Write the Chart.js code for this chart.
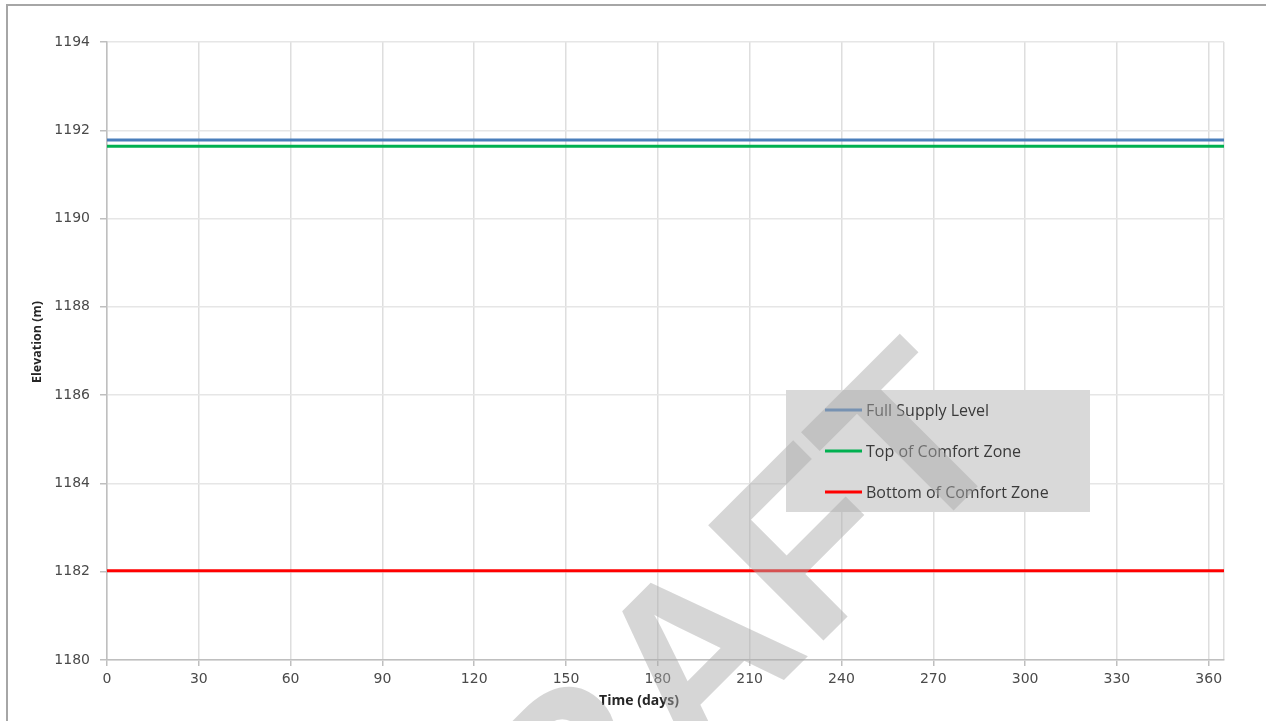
<!DOCTYPE html>
<html>
<head>
<meta charset="utf-8">
<script src="https://cdn.jsdelivr.net/npm/chart.js@4/dist/chart.umd.min.js"></script>
<style>
  html, body { margin: 0; padding: 0; background: #fff; }
  #wrap { position: relative; width: 1266px; height: 721px; }
</style>
</head>
<body>
<div id="wrap"><canvas id="levels" width="1266" height="721"></canvas></div>
<script>
// reservoir levels (m), constant over the year
const days = [0, 365];
const fullSupply = [1191.78, 1191.78];
const topComfort = [1191.64, 1191.64];
const bottomComfort = [1182.02, 1182.02];
const xTicks = [0, 30, 60, 90, 120, 150, 180, 210, 240, 270, 300, 330, 360];
const yTicks = [1180, 1182, 1184, 1186, 1188, 1190, 1192, 1194];

const toPts = vals => days.map((d, i) => ({ x: d, y: vals[i] }));

// grey legend box inside the plot, axis titles, frame and the DRAFT stamp
const extras = {
  id: 'extras',
  afterDatasetsDraw(chart) {
    const ctx = chart.ctx;
    ctx.save();
    ctx.fillStyle = '#d9d9d9';
    ctx.fillRect(786, 390, 304, 122);
    ctx.font = '16px "Open Sans"';
    ctx.textBaseline = 'middle';
    chart.data.datasets.forEach((ds, i) => {
      const y = 410 + i * 41;
      ctx.strokeStyle = ds.borderColor;
      ctx.lineWidth = 3;
      ctx.beginPath();
      ctx.moveTo(825, y);
      ctx.lineTo(862, y);
      ctx.stroke();
      ctx.fillStyle = '#3a3a3a';
      ctx.fillText(ds.label, 866, y + 1);
    });

    // axis titles
    ctx.fillStyle = '#262626';
    ctx.textAlign = 'center';
    ctx.font = 'bold 14px "Open Sans"';
    ctx.fillText('Time (days)', 639, 701);
    ctx.translate(37, 342);
    ctx.rotate(-Math.PI / 2);
    ctx.font = 'bold 12.5px "Open Sans"';
    ctx.fillText('Elevation (m)', 0, 0);
    ctx.restore();
  },
  afterDraw(chart) {
    const ctx = chart.ctx;
    ctx.save();
    ctx.strokeStyle = '#a6a6a6';
    ctx.lineWidth = 2;
    ctx.beginPath();
    ctx.moveTo(7, 721);
    ctx.lineTo(7, 5);
    ctx.lineTo(1266, 5);
    ctx.stroke();

    ctx.translate(733, 731);
    ctx.rotate(-Math.PI / 4);
    ctx.font = 'bold 237px "Liberation Sans"';
    ctx.textAlign = 'center';
    ctx.textBaseline = 'alphabetic';
    ctx.fillStyle = 'rgba(170,170,170,0.48)';
    ctx.fillText('DRAFT', 0, 0);
    ctx.restore();
  }
};

new Chart(document.getElementById('levels'), {
  type: 'line',
  data: {
    datasets: [
      { label: 'Full Supply Level', data: toPts(fullSupply), borderColor: '#4a7ebb' },
      { label: 'Top of Comfort Zone', data: toPts(topComfort), borderColor: '#00b050' },
      { label: 'Bottom of Comfort Zone', data: toPts(bottomComfort), borderColor: '#ff0000' }
    ]
  },
  options: {
    responsive: false,
    animation: false,
    layout: { padding: { top: 42, right: 42, left: 0, bottom: 0 } },
    elements: {
      line: { borderWidth: 3, tension: 0 },
      point: { radius: 0 }
    },
    plugins: { legend: { display: false }, tooltip: { enabled: false } },
    scales: {
      x: {
        type: 'linear',
        min: 0,
        max: 365,
        afterBuildTicks: s => { s.ticks = xTicks.concat([365]).map(v => ({ value: v })); },
        afterFit: s => { s.height = 61; },
        ticks: {
          callback: v => (v === 365 ? '' : String(v)),
          font: { family: 'DejaVu Sans', size: 14 },
          color: '#4a4a4a',
          padding: 5,
          maxRotation: 0,
          autoSkip: false
        },
        grid: {
          color: '#dedede',
          lineWidth: 1.5,
          tickLength: 6,
          tickColor: c => (c.tick && c.tick.value === 365 ? 'rgba(0,0,0,0)' : '#bfbfbf')
        },
        border: { color: '#bfbfbf', width: 1.5 }
      },
      y: {
        min: 1180,
        max: 1194,
        afterBuildTicks: s => { s.ticks = yTicks.map(v => ({ value: v })); },
        afterFit: s => { s.width = 107; },
        ticks: {
          callback: v => String(v),
          font: { family: 'DejaVu Sans', size: 14 },
          color: '#4a4a4a',
          padding: 10
        },
        grid: { color: '#e6e6e6', lineWidth: 1.5, tickLength: 7, tickColor: '#bfbfbf' },
        border: { color: '#bfbfbf', width: 1.5 }
      }
    }
  },
  plugins: [extras]
});
</script>
</body>
</html>
